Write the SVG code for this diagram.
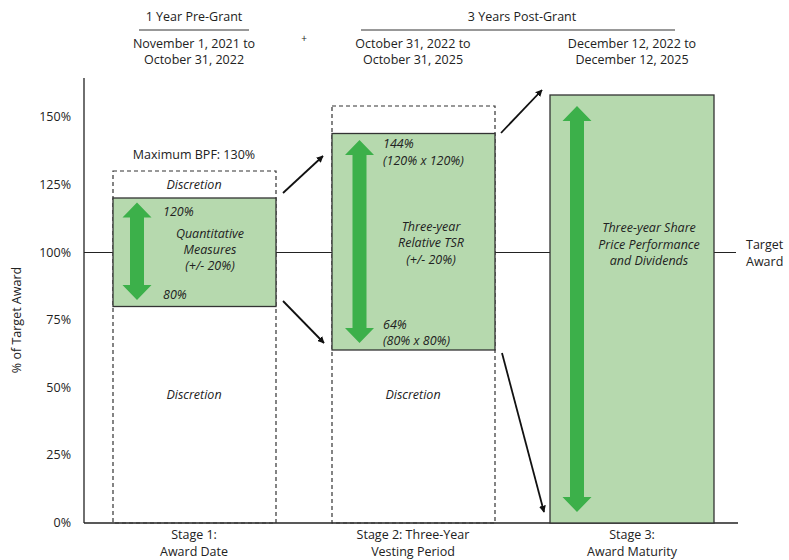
<svg xmlns="http://www.w3.org/2000/svg" width="789" height="560" viewBox="0 0 789 560">
<style>
text{font-family:"Open Sans","Noto Sans","Liberation Sans",sans-serif;font-size:12.5px;fill:#222}
.c{text-anchor:middle}
.r{text-anchor:end}
.i{font-style:italic}
.dash{fill:none;stroke:#333;stroke-width:1.2;stroke-dasharray:4 3}
.box{fill:#b6d9ae;stroke:#333;stroke-width:1.3}
.ga{fill:#3cb04a}
.ax{stroke:#222;stroke-width:1.3;fill:none}
.con{stroke:#111;stroke-width:1.8;fill:none;marker-end:url(#ah)}
</style>
<defs>
<marker id="ah" viewBox="0 0 10 10" refX="9" refY="5" markerWidth="7" markerHeight="7" markerUnits="userSpaceOnUse" orient="auto">
<path d="M0,0 L10,5 L0,10 Z" fill="#111"/>
</marker>
</defs>
<rect width="789" height="560" fill="#fff"/>

<g id="header">
<text class="c" x="194" y="21">1 Year Pre-Grant</text>
<line x1="139" y1="30" x2="249" y2="30" stroke="#333" stroke-width="1"/>
<text class="c" x="194" y="48">November 1, 2021 to</text>
<text class="c" x="194" y="64">October 31, 2022</text>
<text class="c" x="304" y="42" style="font-size:10px">+</text>
<text class="c" x="522" y="21">3 Years Post-Grant</text>
<line x1="361" y1="30" x2="675" y2="30" stroke="#333" stroke-width="1"/>
<text class="c" x="413" y="48">October 31, 2022 to</text>
<text class="c" x="413" y="64">October 31, 2025</text>
<text class="c" x="632" y="48">December 12, 2022 to</text>
<text class="c" x="632" y="64">December 12, 2025</text>
</g>

<g id="axes">
<line class="ax" x1="84" y1="78" x2="84" y2="523"/>
<line class="ax" x1="84" y1="523" x2="738" y2="523"/>
<line x1="84" y1="252.5" x2="736" y2="252.5" stroke="#222" stroke-width="1.2"/>
<text class="r" x="71" y="121">150%</text>
<text class="r" x="71" y="189">125%</text>
<text class="r" x="71" y="257">100%</text>
<text class="r" x="71" y="324">75%</text>
<text class="r" x="71" y="392">50%</text>
<text class="r" x="71" y="459">25%</text>
<text class="r" x="71" y="527">0%</text>
<text class="c" transform="translate(21,320) rotate(-90)">% of Target Award</text>
<text x="746" y="249">Target</text>
<text x="746" y="266">Award</text>
</g>

<g id="stage1">
<rect class="dash" x="113" y="171" width="163" height="352" fill="#fff"/>
<rect class="box" x="113" y="198" width="163" height="108.5"/>
<path class="ga" d="M137,202.5 L151.5,217.5 L144,217.5 L144,285 L151.5,285 L137,300 L122.5,285 L130,285 L130,217.5 L122.5,217.5 Z"/>
<text class="c" x="194" y="159">Maximum BPF: 130%</text>
<text class="c i" x="194" y="189">Discretion</text>
<text class="i" x="163" y="216">120%</text>
<text class="c i" x="210" y="238">Quantitative</text>
<text class="c i" x="210" y="254">Measures</text>
<text class="c i" x="210" y="270">(+/- 20%)</text>
<text class="i" x="163" y="299">80%</text>
<text class="c i" x="194" y="399">Discretion</text>
<text class="c" x="194" y="539">Stage 1:</text>
<text class="c" x="194" y="556">Award Date</text>
</g>

<g id="stage2">
<rect class="dash" x="332" y="106" width="163" height="417" fill="#fff"/>
<rect class="box" x="332" y="133.5" width="163" height="216.5"/>
<path class="ga" d="M359.5,140 L374,155 L366.5,155 L366.5,328 L374,328 L359.5,343 L345,328 L352.5,328 L352.5,155 L345,155 Z"/>
<text class="i" x="383" y="148">144%</text>
<text class="i" x="383" y="165">(120% x 120%)</text>
<text class="c i" x="431" y="231">Three-year</text>
<text class="c i" x="431" y="247">Relative TSR</text>
<text class="c i" x="431" y="264">(+/- 20%)</text>
<text class="i" x="383" y="329">64%</text>
<text class="i" x="383" y="345">(80% x 80%)</text>
<text class="c i" x="413" y="399">Discretion</text>
<text class="c" x="413" y="539">Stage 2: Three-Year</text>
<text class="c" x="413" y="556">Vesting Period</text>
</g>

<g id="stage3">
<rect class="box" x="550" y="95" width="164" height="428"/>
<path class="ga" d="M577,106 L591.5,121 L584,121 L584,497 L591.5,497 L577,512 L562.5,497 L570,497 L570,121 L562.5,121 Z"/>
<text class="c i" x="649" y="232">Three-year Share</text>
<text class="c i" x="649" y="249">Price Performance</text>
<text class="c i" x="649" y="265">and Dividends</text>
<text class="c" x="632" y="539">Stage 3:</text>
<text class="c" x="632" y="556">Award Maturity</text>
</g>

<g id="connectors">
<line class="con" x1="283" y1="193" x2="323" y2="156"/>
<line class="con" x1="283" y1="301" x2="324" y2="343"/>
<line class="con" x1="501" y1="133" x2="542" y2="90"/>
<line class="con" x1="502" y1="353" x2="544" y2="512"/>
</g>
</svg>
